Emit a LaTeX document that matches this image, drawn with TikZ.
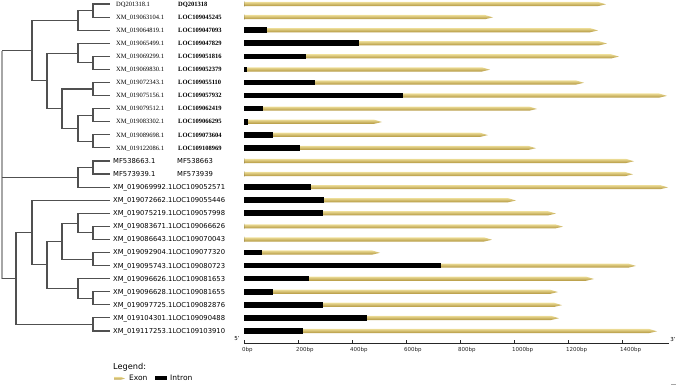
\documentclass[tikz,border=0pt]{standalone}
\usepackage{fontspec}
\setmainfont{DejaVu Sans}
\newfontfamily\serifrow{Liberation Serif}
\definecolor{exonlight}{RGB}{236,220,150}
\definecolor{exondark}{RGB}{178,150,62}
\definecolor{treegray}{RGB}{80,80,80}
\begin{document}
\begin{tikzpicture}[x=1pt,y=-1pt,
  declare function={ry(\r)=4+13.08*(\r-1);},
  tree/.style={draw=treegray,line width=1.1pt},
  rootline/.style={draw=gray!70,line width=1.1pt},
  laba/.style={font=\serifrow\fontsize{6.5}{7}\selectfont,anchor=base west,inner sep=0pt},
  labb/.style={font=\serifrow\bfseries\fontsize{6.5}{7}\selectfont,anchor=base west,inner sep=0pt},
  labc/.style={font=\fontsize{6.8}{8}\selectfont,anchor=base west,inner sep=0pt},
  exonbar/.style={top color=exonlight,bottom color=exondark},
  axislab/.style={font=\fontsize{5.5}{6}\selectfont,anchor=west,inner sep=0pt,text=black!85},
  legtext/.style={font=\fontsize{7.5}{9}\selectfont,anchor=west,inner sep=0pt}]
\useasboundingbox (0,0) rectangle (678,389);
% ---------- leaves ----------
\foreach \i in {1,...,26} \coordinate (L\i) at (110,{ry(\i)});
% ---------- internal nodes ----------
\coordinate (n12)   at (93,{ry(1.5)});
\coordinate (n123)  at (78,{ry(2.25)});
\coordinate (n56)   at (93,{ry(5.5)});
\coordinate (n456)  at (78,{ry(4.75)});
\coordinate (n78)   at (93,{ry(7.5)});
\coordinate (n910)  at (93,{ry(9.5)});
\coordinate (n1112) at (93,{ry(11.5)});
\coordinate (n912)  at (78,{ry(10.5)});
\coordinate (n712)  at (62,{ry(9)});
\coordinate (n412)  at (47,{ry(6.875)});
\coordinate (nA)    at (32,{ry(4.5625)});
\coordinate (n1314) at (93,{ry(13.5)});
\coordinate (nB)    at (78,{ry(14.25)});
\coordinate (n1819) at (93,{ry(18.5)});
\coordinate (n1719) at (78,{ry(17.75)});
\coordinate (n2021) at (93,{ry(20.5)});
\coordinate (n1721) at (62,{ry(19.125)});
\coordinate (n2324) at (93,{ry(23.5)});
\coordinate (n2224) at (78,{ry(22.75)});
\coordinate (n1724) at (47,{ry(20.9375)});
\coordinate (n1624) at (32,{ry(18.46875)});
\coordinate (n2526) at (93,{ry(25.5)});
\coordinate (nC)    at (16,{ry(21.984375)});
\coordinate (root)  at (2,{ry(4.5625)});
% ---------- tree edges ----------
\foreach \p/\c in {n12/L1,n12/L2,n123/n12,n123/L3,
  n56/L5,n56/L6,n456/L4,n456/n56,
  n78/L7,n78/L8,n910/L9,n910/L10,n1112/L11,n1112/L12,
  n912/n910,n912/n1112,n712/n78,n712/n912,n412/n456,n412/n712,
  nA/n123,nA/n412,
  n1314/L13,n1314/L14,nB/n1314,nB/L15,
  n1819/L18,n1819/L19,n1719/L17,n1719/n1819,n2021/L20,n2021/L21,
  n1721/n1719,n1721/n2021,n2324/L23,n2324/L24,n2224/L22,n2224/n2324,
  n1724/n1721,n1724/n2224,n1624/L16,n1624/n1724,
  n2526/L25,n2526/L26,nC/n1624,nC/n2526}
  \draw[tree] (\p) |- (\c);
\draw[rootline] (root) |- (nC);
\draw[tree] (root) -- (nA);
\draw[tree] (root |- nB) -- (nB);
\draw[tree] (root |- nC) -- (nC);
% ---------- labels rows 1-12 ----------
\foreach \r/\a/\b in {1/DQ201318.1/DQ201318,
  2/XM\_019063104.1/LOC109045245,3/XM\_019064819.1/LOC109047093,
  4/XM\_019065499.1/LOC109047829,5/XM\_019069299.1/LOC109051816,
  6/XM\_019069830.1/LOC109052379,7/XM\_019072343.1/LOC109055110,
  8/XM\_019075156.1/LOC109057932,9/XM\_019079512.1/LOC109062419,
  10/XM\_019083302.1/LOC109066295,11/XM\_019089698.1/LOC109073604,
  12/XM\_019122086.1/LOC109108969}{
  \node[laba] (a\r) at (116,{ry(\r)+2.2}) {\a};
  \node[labb] (b\r) at (178,{ry(\r)+2.2}) {\b};
}
\node[labc] (a13) at (113,{ry(13)+2.4}) {MF538663.1};
\node[labc] (b13) at (177,{ry(13)+2.4}) {MF538663};
\node[labc] (a14) at (113,{ry(14)+2.4}) {MF573939.1};
\node[labc] (b14) at (177,{ry(14)+2.4}) {MF573939};
\foreach \r/\a in {15/XM\_019069992.1LOC109052571,16/XM\_019072662.1LOC109055446,
  17/XM\_019075219.1LOC109057998,18/XM\_019083671.1LOC109066626,
  19/XM\_019086643.1LOC109070043,20/XM\_019092904.1LOC109077320,
  21/XM\_019095743.1LOC109080723,22/XM\_019096626.1LOC109081653,
  23/XM\_019096628.1LOC109081655,24/XM\_019097725.1LOC109082876,
  25/XM\_019104301.1LOC109090488,26/XM\_019117253.1LOC109103910}{
  \node[labc] (a\r) at (113,{ry(\r)+2.4}) {\a};
}
% ---------- gene bars ----------
\foreach \r/\i/\e in {1/244/606,2/244/493,3/267/598,4/359/607,5/306/619,
  6/247/490,7/315/584,8/403/667,9/263/537,10/248/382,11/273/488,12/300/536,
  13/244/634,14/244/633,15/311/668,16/324/516,17/323/556,18/244/563,
  19/244/492,20/262/380,21/441/636,22/309/594,23/273/558,24/323/562,
  25/367/559,26/303/657}{
  \pgfmathsetmacro\yy{ry(\r)}
  \shade[exonbar] (\i,{\yy-2.1}) -- ({\e-8},{\yy-2.1}) -- (\e,{\yy+0.3})
     -- ({\e-8},{\yy+2.1}) -- (\i,{\yy+2.1}) -- cycle;
  \fill[black] (244,{\yy-2.8}) rectangle (\i,{\yy+2.8});
}
% ---------- axis ----------
\coordinate (ax0) at (244,343);
\coordinate (ax1) at (669,343);
\draw[line width=0.8pt,black!85] (ax0) -- (ax1);
\foreach \k in {0,...,7}{
  \draw[line width=0.6pt,black!85] ({244+54*\k},343) -- ({244+54*\k},339.5);
  \pgfmathtruncatemacro\bp{200*\k}
  \node[axislab] (t\k) at ({242+54*\k},350) {\bp bp};
}
\node[font=\fontsize{5.5}{6}\selectfont,inner sep=0pt] (five) at (237,339) {5'};
\node[font=\fontsize{5.5}{6}\selectfont,inner sep=0pt] (three) at (673,339) {3'};
% ---------- legend ----------
\node[font=\fontsize{8.2}{10}\selectfont,anchor=west,inner sep=0pt] (leg) at (113,367) {Legend:};
\shade[exonbar] (114,376.8) -- (121,376.8) -- (125,378.6) -- (121,379.6) -- (114,379.6) -- cycle;
\node[legtext] (lexon) at (129,378.2) {Exon};
\fill[black] (155,376.2) rectangle (167,380.2);
\node[legtext] (lintron) at (170,378.2) {Intron};
\draw[gray!70,line width=0.8pt] (671,384) -- (676,384);
\end{tikzpicture}
\end{document}
